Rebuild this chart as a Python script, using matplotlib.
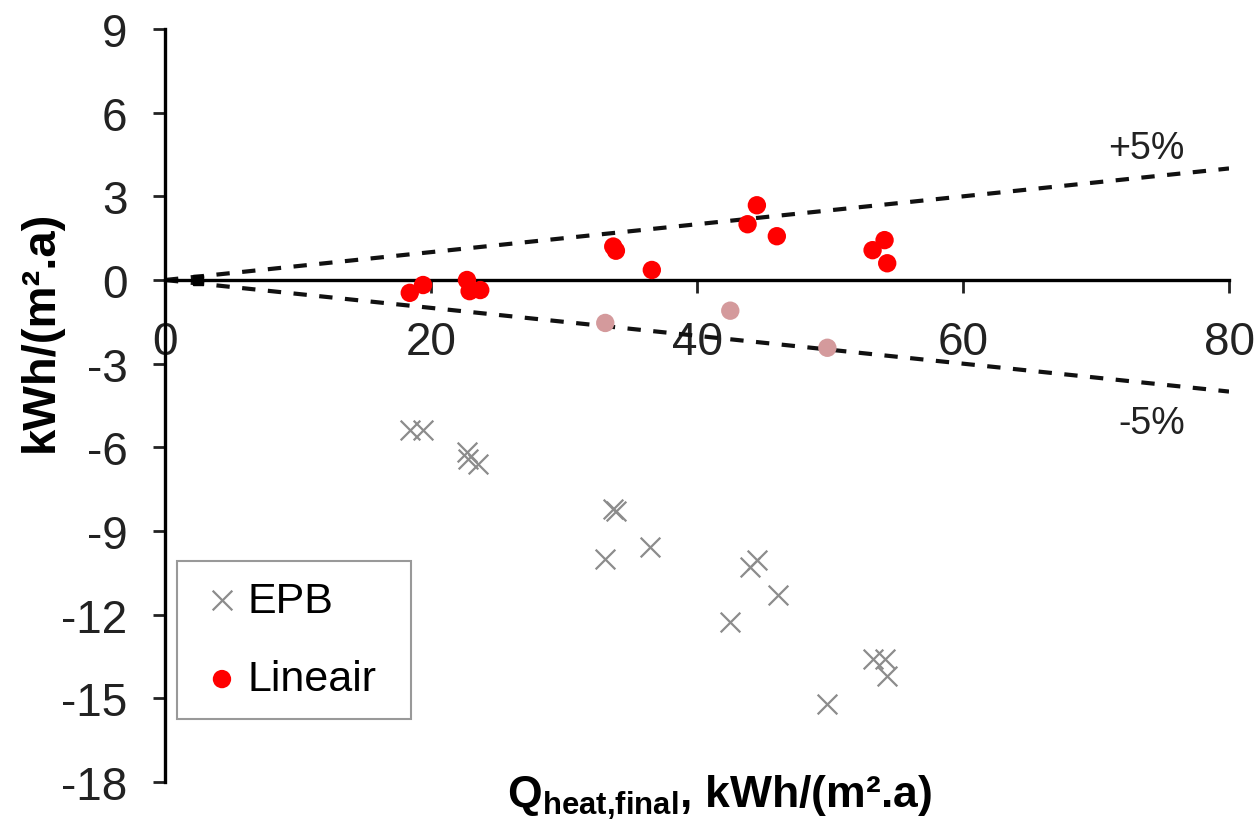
import matplotlib
matplotlib.use("Agg")
import matplotlib.pyplot as plt
import numpy as np

plt.rcParams['font.family'] = ['Liberation Sans', 'DejaVu Sans']
plt.rcParams['mathtext.fontset'] = 'custom'
plt.rcParams['mathtext.rm'] = 'Liberation Sans'
plt.rcParams['mathtext.bf'] = 'Liberation Sans:bold'

# data
lin_x = [18.4, 19.4, 22.7, 22.9, 23.7, 33.7, 33.9, 36.6, 43.8, 44.5, 46.0, 53.2, 54.1, 54.3]
lin_y = [-0.46, -0.18, 0.0, -0.4, -0.36, 1.2, 1.05, 0.36, 2.0, 2.68, 1.57, 1.07, 1.43, 0.6]

pink_x = [33.1, 42.5, 49.8]
pink_y = [-1.54, -1.1, -2.43]

epb_x = [18.4, 19.4, 22.7, 22.8, 23.5, 33.7, 33.9, 33.1, 36.5, 44.0, 44.5, 46.1, 42.5,
         53.2, 54.1, 54.3, 49.8]
epb_y = [-5.39, -5.39, -6.18, -6.43, -6.6, -8.2, -8.3, -10.0, -9.57, -10.3, -10.04, -11.3,
         -12.25, -13.6, -13.6, -14.2, -15.2]

band_x = [0, 80]
band_pct = 0.05

x_ticks = [0, 20, 40, 60, 80]
y_ticks = [9, 6, 3, 0, -3, -6, -9, -12, -15, -18]

fig = plt.figure(figsize=(12.6, 8.29), dpi=100)
ax = fig.add_axes([0.131, 0.0555, 0.8444, 0.9083])

# +/- 5% lines
bx = np.array(band_x)
ax.plot(bx, bx * band_pct, color='#111111', ls=(0, (3.2, 3)), lw=3, zorder=2)
ax.plot(bx, -bx * band_pct, color='#111111', ls=(0, (3.2, 3)), lw=3, zorder=2)
ax.text(73.8, 4.73, '+5%', fontsize=27, ha='center', va='center', color='#222222')
ax.text(74.2, -5.13, '-5%', fontsize=27, ha='center', va='center', color='#222222')

ax.plot([2.5], [0], marker='s', ms=7, color='black', zorder=3)

ax.scatter(epb_x, epb_y, marker='x', s=200, color='#8c8c8c', linewidths=1.6,
           label='EPB', zorder=3)
ax.scatter(lin_x, lin_y, marker='o', s=175, color='#ff0000', edgecolors='none',
           label='Lineair', zorder=4)
ax.scatter(pink_x, pink_y, marker='o', s=175, color='#d49a9c', edgecolors='none',
           label='_nolegend_', zorder=4)

ax.set_xlim(0, 80)
ax.set_ylim(-18, 9)
ax.set_xticks(x_ticks)
ax.set_yticks(y_ticks)
ax.set_yticklabels([str(v) for v in y_ticks])

ax.spines['top'].set_visible(False)
ax.spines['right'].set_visible(False)
ax.spines['bottom'].set_position(('data', 0))
ax.spines['bottom'].set_linewidth(2.4)
ax.spines['left'].set_linewidth(2.4)
ax.tick_params(axis='both', labelsize=33, width=2, length=9, direction='out',
               colors='#222222')
ax.tick_params(axis='x', pad=20)
ax.tick_params(axis='y', pad=18)

fig.text(0.032, 0.60, 'kWh/(m².a)', rotation=90, fontsize=34, fontweight='bold',
         ha='center', va='center')
fig.text(0.571, 0.037, r'$\mathbf{Q_{heat{,}final}}$, kWh/(m².a)', fontsize=32,
         fontweight='bold', ha='center', va='center')

leg = ax.legend(loc='lower left', bbox_to_anchor=(0.011, 0.084, 0.22, 0.2),
                mode='expand', borderaxespad=0, fontsize=31, fancybox=False,
                edgecolor='#999999', framealpha=1, handletextpad=0.0,
                labelspacing=0.9, handlelength=1.2, borderpad=0.45)
leg.get_frame().set_linewidth(1.5)

fig.savefig('out.png', dpi=100)
